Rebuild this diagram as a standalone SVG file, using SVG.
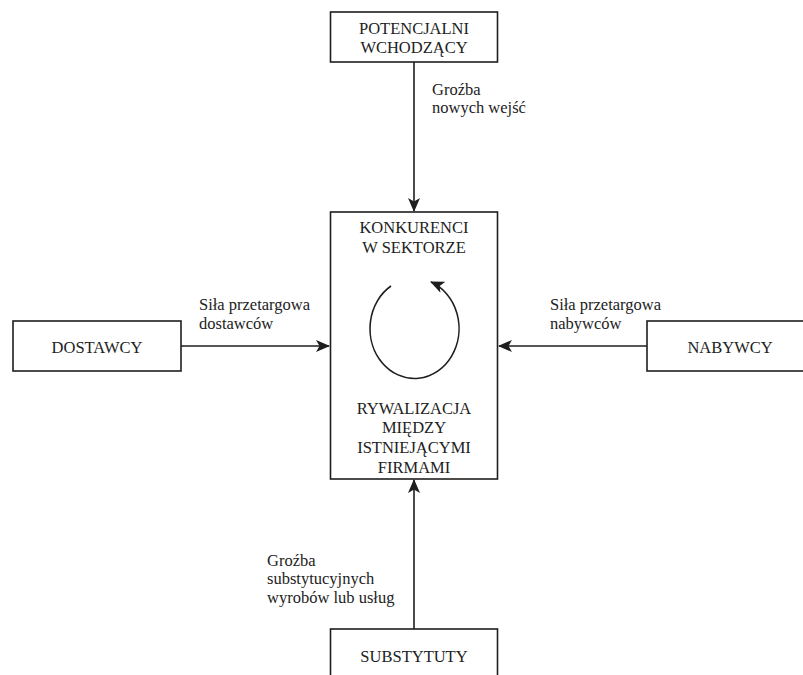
<svg xmlns="http://www.w3.org/2000/svg" width="803" height="675" viewBox="0 0 803 675">
  <style>
    .box { fill: #ffffff; stroke: #1e1e1e; stroke-width: 1.6; }
    .txt { font-family: 'Liberation Serif', 'DejaVu Serif', serif; font-size: 16.5px; fill: #222222; }
    .mid { text-anchor: middle; }
    .edge { fill: none; stroke: #1e1e1e; stroke-width: 1.6; }
  </style>
  <defs>
    <marker id="arrow" viewBox="0 0 14 12" refX="13" refY="6" markerWidth="14" markerHeight="12" markerUnits="userSpaceOnUse" orient="auto">
      <path d="M0,0 L14,6 L0,12 L3.5,6 Z" fill="#1e1e1e"/>
    </marker>
  </defs>
  <rect width="803" height="675" fill="#ffffff"/>

  <!-- connectors -->
  <g id="connectors">
    <path class="edge" d="M414,62 L414,211" marker-end="url(#arrow)"/>
    <path class="edge" d="M181,346 L329,346" marker-end="url(#arrow)"/>
    <path class="edge" d="M647,346 L499,346" marker-end="url(#arrow)"/>
    <path class="edge" d="M414,629 L414,480" marker-end="url(#arrow)"/>
    <text class="txt" x="432" y="95">Groźba</text>
    <text class="txt" x="432" y="113">nowych wejść</text>
    <text class="txt" x="199" y="310">Siła przetargowa</text>
    <text class="txt" x="199" y="329">dostawców</text>
    <text class="txt" x="550" y="310">Siła przetargowa</text>
    <text class="txt" x="550" y="329">nabywców</text>
    <text class="txt" x="267" y="566">Groźba</text>
    <text class="txt" x="267" y="584">substytucyjnych</text>
    <text class="txt" x="267" y="603">wyrobów lub usług</text>
  </g>

  <!-- potential entrants -->
  <g id="potencjalni">
    <rect class="box" x="330.5" y="12" width="167" height="50"/>
    <text class="txt mid" x="414" y="34">POTENCJALNI</text>
    <text class="txt mid" x="414" y="53">WCHODZĄCY</text>
  </g>

  <!-- industry competitors -->
  <g id="konkurenci">
    <rect class="box" x="330.5" y="212" width="167" height="267"/>
    <text class="txt mid" x="414" y="233">KONKURENCI</text>
    <text class="txt mid" x="414" y="253">W SEKTORZE</text>
    <path class="edge" d="M391,286 A44.5,50 0 1,0 431,282" marker-end="url(#arrow)"/>
    <text class="txt mid" x="414" y="414">RYWALIZACJA</text>
    <text class="txt mid" x="414" y="433">MIĘDZY</text>
    <text class="txt mid" x="414" y="453">ISTNIEJĄCYMI</text>
    <text class="txt mid" x="414" y="473">FIRMAMI</text>
  </g>

  <!-- suppliers -->
  <g id="dostawcy">
    <rect class="box" x="13" y="321" width="168" height="50"/>
    <text class="txt mid" x="97" y="353">DOSTAWCY</text>
  </g>

  <!-- buyers -->
  <g id="nabywcy">
    <rect class="box" x="647" y="321" width="166" height="50"/>
    <text class="txt mid" x="730" y="353">NABYWCY</text>
  </g>

  <!-- substitutes -->
  <g id="substytuty">
    <rect class="box" x="330.5" y="629" width="167" height="60"/>
    <text class="txt mid" x="414" y="662">SUBSTYTUTY</text>
  </g>
</svg>
